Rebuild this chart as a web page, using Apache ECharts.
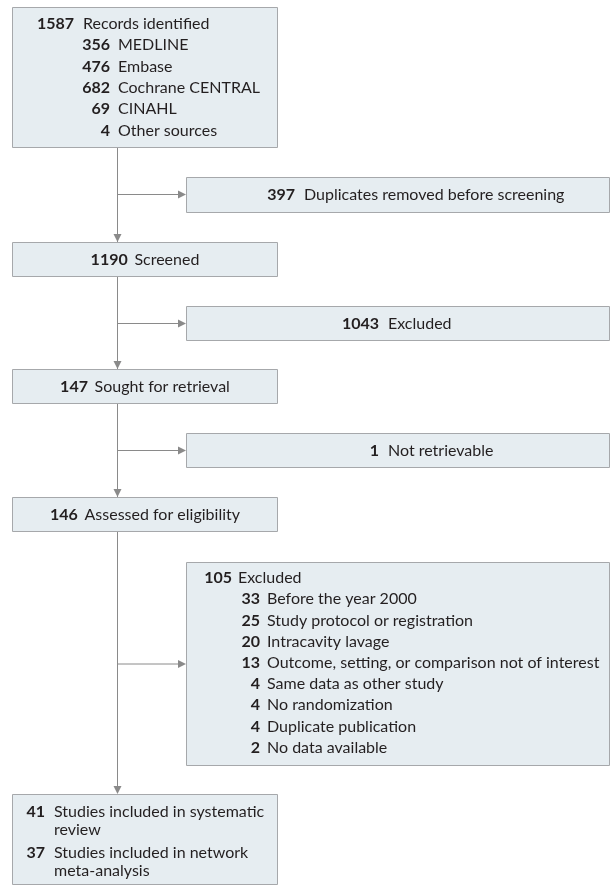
<!DOCTYPE html>
<html>
<head>
<meta charset="utf-8">
<script src="https://cdn.jsdelivr.net/npm/echarts@6/dist/echarts.min.js"></script>
<style>
  html, body { margin: 0; padding: 0; background: #fff; }
  #flow { width: 610px; height: 886px; }
</style>
</head>
<body>
<div id="flow"></div>
<script>
// counts and labels of the flow diagram
const identifiedCounts = [1587, 356, 476, 682, 69, 4];
const identifiedLabels = ['Records identified', 'MEDLINE', 'Embase', 'Cochrane CENTRAL', 'CINAHL', 'Other sources'];
const stageCounts = [1190, 147, 146];
const stageLabels = ['Screened', 'Sought for retrieval', 'Assessed for eligibility'];
const removedCounts = [397, 1043, 1];
const removedLabels = ['Duplicates removed before screening', 'Excluded', 'Not retrievable'];
const exclusionCounts = [105, 33, 25, 20, 13, 4, 4, 4, 2];
const exclusionLabels = ['Excluded', 'Before the year 2000', 'Study protocol or registration', 'Intracavity lavage',
  'Outcome, setting, or comparison not of interest', 'Same data as other study', 'No randomization',
  'Duplicate publication', 'No data available'];
const includedCounts = [41, 37];
const includedLabels = ['Studies included in systematic\nreview', 'Studies included in network\nmeta-analysis'];

// layout (pixels)
const FONT = 'Lato';
const FS = 16;
const TXT = '#231f20';
const LINE = '#8a8a8a';
const BORDER = '#a6a8ab';
const FILL = '#e6edf1';
const mainX = [12, 277];
const sideX = [186, 609];
const trunkX = 117.5;
const stageBoxesY = [[242, 276], [369, 403], [497, 531]];
const sideBoxesY = [[177, 212], [306, 340], [433, 467]];
const sideNumRight = [295, 379, 379];
const branchY = [194.5, 323.5, 450.5, 664];

let els = []

function box(x0, y0, x1, y1) {
    els.push({
        type: 'rect',
        shape: { x: x0 + 0.5, y: y0 + 0.5, width: x1 - x0, height: y1 - y0 },
        style: { fill: FILL, stroke: BORDER, lineWidth: 1 },
        z: 5
    })
}

function txt(x, y, s, bold, align) {
    els.push({
        type: 'text',
        x: x, y: y,
        style: {
            text: s, fill: TXT, font: (bold ? 'bold ' : '') + FS + 'px ' + FONT,
            textAlign: align, textVerticalAlign: 'middle'
        },
        z: 10
    })
}

// number right aligned, label left aligned
function row(numRight, gap, y, n, label) {
    txt(numRight, y, String(n), true, 'right')
    txt(numRight + gap, y, label, false, 'left')
}

function line(x0, y0, x1, y1) {
    els.push({
        type: 'line',
        shape: { x1: x0, y1: y0, x2: x1, y2: y1 },
        style: { stroke: LINE, lineWidth: 1 },
        z: 1
    })
}

function arrowDown(x, tipY) {
    els.push({
        type: 'polygon',
        shape: { points: [[x, tipY], [x - 4, tipY - 8], [x + 4, tipY - 8]] },
        style: { fill: LINE },
        z: 2
    })
}

function arrowRight(tipX, y) {
    els.push({
        type: 'polygon',
        shape: { points: [[tipX, y], [tipX - 8, y - 4], [tipX - 8, y + 4]] },
        style: { fill: LINE },
        z: 2
    })
}

// connectors
line(trunkX, 147, trunkX, 787)
stageBoxesY.forEach(b => arrowDown(trunkX, b[0]))
arrowDown(trunkX, 794)
branchY.forEach(y => {
    line(trunkX, y, sideX[0] - 6, y)
    arrowRight(sideX[0], y)
})

// identified box
box(mainX[0], 7, mainX[1], 147)
identifiedCounts.forEach((n, i) => {
    let y = 24 + 21.3 * i
    if (i === 0) row(74, 9, y, n, identifiedLabels[i])
    else row(110, 8, y, n, identifiedLabels[i])
})

// stage boxes (centered text)
stageCounts.forEach((n, i) => {
    let b = stageBoxesY[i]
    box(mainX[0], b[0], mainX[1], b[1])
    els.push({
        type: 'text',
        x: (mainX[0] + mainX[1]) / 2 + 0.5, y: (b[0] + b[1]) / 2 + 0.5,
        style: {
            text: '{n|' + n + '}  {l|' + stageLabels[i] + '}',
            textAlign: 'center', textVerticalAlign: 'middle',
            rich: {
                n: { fontFamily: FONT, fontSize: FS, fontWeight: 'bold', fill: TXT },
                l: { fontFamily: FONT, fontSize: FS, fill: TXT }
            }
        },
        z: 10
    })
})

// side boxes
removedCounts.forEach((n, i) => {
    let b = sideBoxesY[i]
    box(sideX[0], b[0], sideX[1], b[1])
    row(sideNumRight[i], 9, (b[0] + b[1]) / 2 + 0.5, n, removedLabels[i])
})

// exclusion reasons box
box(sideX[0], 562, sideX[1], 765)
exclusionCounts.forEach((n, i) => {
    let y = 578 + 21.2 * i
    if (i === 0) row(232, 6, y, n, exclusionLabels[i])
    else row(260, 7, y, n, exclusionLabels[i])
})

// included box
box(mainX[0], 794, mainX[1], 884)
includedCounts.forEach((n, i) => {
    let y = 812 + 41 * i
    let parts = includedLabels[i].split('\n')
    txt(45, y, String(n), true, 'right')
    parts.forEach((p, j) => txt(54, y + 18 * j, p, false, 'left'))
})

let chart = echarts.init(document.getElementById('flow'))
chart.setOption({
    animation: false,
    graphic: { elements: els }
})
</script>
</body>
</html>
